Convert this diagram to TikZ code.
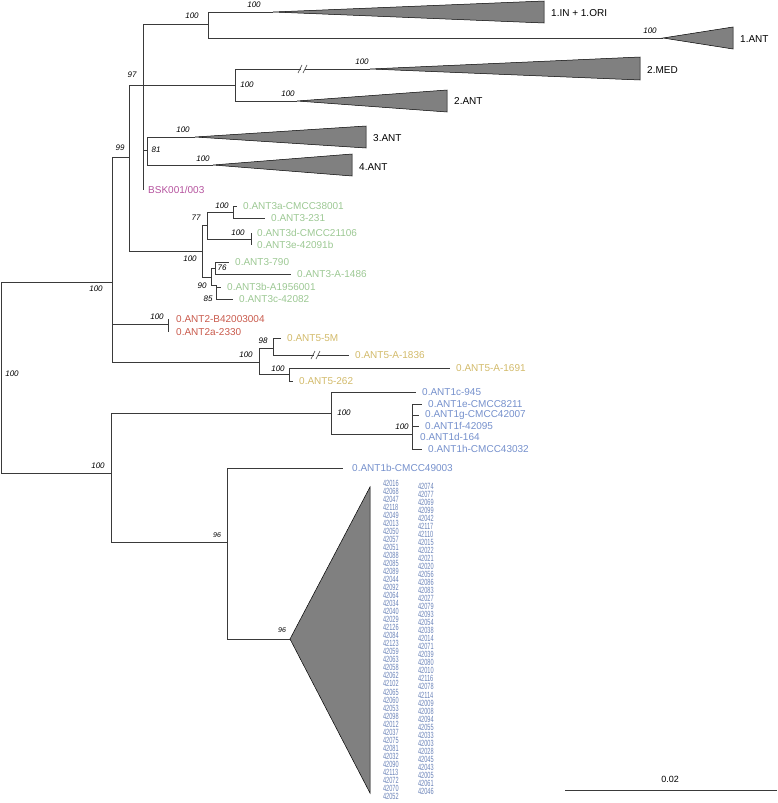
\documentclass[tikz,border=0pt]{standalone}
\usepackage{fontspec}
\setmainfont{Liberation Sans}
\usetikzlibrary{positioning}
\definecolor{branch}{HTML}{3A3A3A}
\definecolor{cladegray}{HTML}{808080}
\definecolor{antgreen}{HTML}{9CC893}
\definecolor{antred}{HTML}{C95A4C}
\definecolor{antyellow}{HTML}{D2BA6A}
\definecolor{antblue}{HTML}{7590CC}
\definecolor{bskpurple}{HTML}{B5539E}

\begin{document}
\begin{tikzpicture}[x=1pt,y=-1pt,
  br/.style={draw=branch,line width=0.7pt},
  clade/.style={draw=black,fill=cladegray,line width=0.5pt},
  leaf/.style={inner xsep=6pt,inner ysep=1pt,font=\fontsize{10}{12}\selectfont},
  cladelab/.style={inner xsep=7pt,font=\fontsize{10}{12}\selectfont},
  bs/.style={font=\itshape\fontsize{8}{9}\selectfont,inner sep=0pt},
  numcol/.style={font=\fontsize{9}{8.02}\selectfont,text=antblue!90!black,align=left,
    inner sep=0pt,xscale=0.62,anchor=north west}]
  \useasboundingbox (0,0) rectangle (778,803);

  % internal nodes
  \coordinate (root) at (1,378);
  \coordinate (nA) at (112,282);
  \coordinate (nB) at (111,473);
  \coordinate (n99) at (129,157);
  \coordinate (n97) at (143,85);
  \coordinate (n1) at (208,24);
  \coordinate (n2) at (235,85);
  \coordinate (n81) at (147,150);
  \coordinate (nant3) at (202,251);
  \coordinate (n77) at (207,225);
  \coordinate (n3ac) at (233,212);
  \coordinate (n3de) at (251,239);
  \coordinate (n90) at (211,277);
  \coordinate (n76) at (215,268);
  \coordinate (n85) at (216,285);
  \coordinate (nant2) at (168,324);
  \coordinate (nant5) at (259,362);
  \coordinate (n98) at (273,348);
  \coordinate (n5b) at (289,374);
  \coordinate (nant1) at (331,413);
  \coordinate (n1e) at (412,434);
  \coordinate (n96a) at (227,542);
  \coordinate (n96b) at (290,639);

  % collapsed clades (apex)
  \coordinate (c1in) at (273,12);
  \coordinate (c1ant) at (663,38);
  \coordinate (c2med) at (370,69);
  \coordinate (c2ant) at (297,101);
  \coordinate (c3ant) at (195,137);
  \coordinate (c4ant) at (213,165);

  % leaf tips
  \coordinate (tbsk) at (143,190);
  \coordinate (t3a) at (237,206);
  \coordinate (t3231) at (265,218);
  \coordinate (t3d) at (251,233);
  \coordinate (t3e) at (251,245);
  \coordinate (t3790) at (229,262);
  \coordinate (t31486) at (291,274);
  \coordinate (t3b) at (221,287);
  \coordinate (t3c) at (233,299);
  \coordinate (t2b) at (168,319);
  \coordinate (t2a) at (168,332);
  \coordinate (t55m) at (281,338);
  \coordinate (t51836) at (349,355);
  \coordinate (t51691) at (450,368);
  \coordinate (t5262) at (293,381);
  \coordinate (t1c) at (416,392);
  \coordinate (t1e) at (422,404);
  \coordinate (t1g) at (419,415);
  \coordinate (t1f) at (419,426);
  \coordinate (t1d) at (412,437);
  \coordinate (t1h) at (422,449);
  \coordinate (t1b) at (343,468);

  % branches
  \draw[br] (root) |- (nA) (root) |- (nB);
  \draw[br] (nA) |- (n99) (nA) |- (nant2) (nA) |- (nant5);
  \draw[br] (n99) |- (n97) (n99) |- (nant3);
  \draw[br] (n97) |- (n1) (n97) -- (n2) (n97) |- (n81) (n97) |- (tbsk);
  \draw[br] (n1) |- (c1in) (n1) |- (c1ant);
  \draw[br] (n2) |- (c2med) (n2) |- (c2ant);
  \draw[br] (n81) |- (c3ant) (n81) |- (c4ant);
  \draw[br] (nant3) |- (n77) (nant3) |- (n90);
  \draw[br] (n77) |- (n3ac) (n77) |- (n3de);
  \draw[br] (n3ac) |- (t3a) (n3ac) |- (t3231);
  \draw[br] (n3de) |- (t3d) (n3de) |- (t3e);
  \draw[br] (n90) |- (n76) (n90) |- (n85);
  \draw[br] (n76) |- (t3790) (n76) |- (t31486);
  \draw[br] (n85) |- (t3b) (n85) |- (t3c);
  \draw[br] (nant2) |- (t2b) (nant2) |- (t2a);
  \draw[br] (nant5) |- (n98) (nant5) |- (n5b);
  \draw[br] (n98) |- (t55m) (n98) |- (t51836);
  \draw[br] (n5b) |- (t51691) (n5b) |- (t5262);
  \draw[br] (nB) |- (nant1) (nB) |- (n96a);
  \draw[br] (nant1) |- (t1c) (nant1) |- (n1e);
  \draw[br] (n1e) |- (t1e) (n1e) |- (t1g) (n1e) |- (t1f) (n1e) |- (t1d) (n1e) |- (t1h);
  \draw[br] (n96a) |- (t1b) (n96a) |- (n96b);

  % broken branches
  \coordinate (brk1) at (303,69);
  \coordinate (brk2) at (316,355);
  \foreach \b in {brk1,brk2} {
    \fill[white,shift={(\b)}] (-2,-2) rectangle (1.5,2);
    \draw[br,line width=0.6pt,shift={(\b)}] (-5,4) -- (-1,-4) (0,4) -- (4,-4);
  }

  % collapsed clades
  \draw[clade] (c1in) -- (544,1) -- (544,23) -- cycle;
  \draw[clade] (c1ant) -- (733,27) -- (733,49) -- cycle;
  \draw[clade] (c2med) -- (640,57) -- (640,80) -- cycle;
  \draw[clade] (c2ant) -- (447,90) -- (447,112) -- cycle;
  \draw[clade] (c3ant) -- (366,126) -- (366,148) -- cycle;
  \draw[clade] (c4ant) -- (352,154) -- (352,176) -- cycle;
  \draw[clade] (n96b) -- (370,487) -- (370,793) -- cycle;

  \coordinate (e1in) at (544,13);
  \coordinate (e1ant) at (733,39);
  \coordinate (e2med) at (640,70);
  \coordinate (e2ant) at (447,101);
  \coordinate (e3ant) at (366,138);
  \coordinate (e4ant) at (352,167);
  \node[cladelab,right=0pt of e1in] (l1in) {1.IN + 1.ORI};
  \node[cladelab,right=0pt of e1ant] (l1ant) {1.ANT};
  \node[cladelab,right=0pt of e2med] (l2med) {2.MED};
  \node[cladelab,right=0pt of e2ant] (l2ant) {2.ANT};
  \node[cladelab,right=0pt of e3ant] (l3ant) {3.ANT};
  \node[cladelab,right=0pt of e4ant] (l4ant) {4.ANT};

  % leaf labels
  \node[leaf,text=bskpurple,right=-1pt of tbsk] (lbsk) {BSK001/003};
  \node[leaf,text=antgreen,right=0pt of t3a] (l3a) {0.ANT3a-CMCC38001};
  \node[leaf,text=antgreen,right=0pt of t3231] (l3231) {0.ANT3-231};
  \node[leaf,text=antgreen,right=0pt of t3d] (l3d) {0.ANT3d-CMCC21106};
  \node[leaf,text=antgreen,right=0pt of t3e] (l3e) {0.ANT3e-42091b};
  \node[leaf,text=antgreen,right=0pt of t3790] (l3790) {0.ANT3-790};
  \node[leaf,text=antgreen,right=0pt of t31486] (l31486) {0.ANT3-A-1486};
  \node[leaf,text=antgreen,right=0pt of t3b] (l3b) {0.ANT3b-A1956001};
  \node[leaf,text=antgreen,right=0pt of t3c] (l3c) {0.ANT3c-42082};
  \node[leaf,text=antred,right=2pt of t2b] (l2b) {0.ANT2-B42003004};
  \node[leaf,text=antred,right=2pt of t2a] (l2a) {0.ANT2a-2330};
  \node[leaf,text=antyellow,right=0pt of t55m] (l55m) {0.ANT5-5M};
  \node[leaf,text=antyellow,right=0pt of t51836] (l51836) {0.ANT5-A-1836};
  \node[leaf,text=antyellow,right=0pt of t51691] (l51691) {0.ANT5-A-1691};
  \node[leaf,text=antyellow,right=0pt of t5262] (l5262) {0.ANT5-262};
  \node[leaf,text=antblue,right=0pt of t1c] (l1c) {0.ANT1c-945};
  \node[leaf,text=antblue,right=0pt of t1e] (l1e) {0.ANT1e-CMCC8211};
  \node[leaf,text=antblue,right=0pt of t1g] (l1g) {0.ANT1g-CMCC42007};
  \node[leaf,text=antblue,right=0pt of t1f] (l1f) {0.ANT1f-42095};
  \node[leaf,text=antblue,right=2pt of t1d] (l1d) {0.ANT1d-164};
  \node[leaf,text=antblue,right=0pt of t1h] (l1h) {0.ANT1h-CMCC43032};
  \node[leaf,text=antblue,right=3pt of t1b] (l1b) {0.ANT1b-CMCC49003};

  % collapsed 0.ANT1 isolates
  \node[numcol] (ids1) at (383,480) {42016\\42068\\42047\\42118\\42049\\42013\\42050\\42057\\42051\\42088\\42085\\42089\\42044\\42092\\42064\\42034\\42040\\42029\\42126\\42084\\42123\\42059\\42063\\42058\\42062\\42102\\42065\\42060\\42053\\42098\\42012\\42037\\42075\\42081\\42032\\42090\\42113\\42072\\42070\\42052};
  \node[numcol] (ids2) at (418,483) {42074\\42077\\42069\\42099\\42042\\42117\\42110\\42015\\42022\\42021\\42020\\42056\\42086\\42083\\42027\\42079\\42093\\42054\\42038\\42014\\42071\\42039\\42080\\42010\\42116\\42078\\42114\\42009\\42008\\42094\\42055\\42033\\42003\\42028\\42045\\42043\\42005\\42061\\42046};

  % bootstrap support
  \node[bs] (b1) at (192,16) {100};
  \node[bs] (b1in) at (254,5) {100};
  \node[bs] (b1ant) at (650,31) {100};
  \node[bs] (b97) at (132,75) {97};
  \node[bs] (b2) at (247,85) {100};
  \node[bs] (b2med) at (362,62) {100};
  \node[bs] (b2ant) at (288,94) {100};
  \node[bs] (b99) at (120,148) {99};
  \node[bs] (b3ant) at (183,130) {100};
  \node[bs] (b81) at (156,150) {81};
  \node[bs] (b4ant) at (203,159) {100};
  \node[bs] (b3ac) at (222,206) {100};
  \node[bs] (b77) at (196,218) {77};
  \node[bs] (b3de) at (238,233) {100};
  \node[bs] (bant3) at (190,259) {100};
  \node[bs] (b76) at (222,268) {76};
  \node[bs] (b90) at (202,286) {90};
  \node[bs] (b85) at (208,299) {85};
  \node[bs] (bA) at (96,289) {100};
  \node[bs] (broot) at (12,374) {100};
  \node[bs] (bant2) at (157,317) {100};
  \node[bs] (b98) at (263,341) {98};
  \node[bs] (bant5) at (246,355) {100};
  \node[bs] (b5b) at (278,369) {100};
  \node[bs] (bant1) at (344,413) {100};
  \node[bs] (b1e) at (402,427) {100};
  \node[bs] (bB) at (98,466) {100};
  \node[bs,font=\itshape\fontsize{7}{8}\selectfont] (b96a) at (217,535) {96};
  \node[bs,font=\itshape\fontsize{7}{8}\selectfont] (b96b) at (282,630) {96};

  % scale bar
  \coordinate (sbl) at (565,790);
  \coordinate (sbr) at (777,790);
  \draw[br,line width=0.9pt] (sbl) -- (sbr);
  \node[font=\fontsize{9}{10}\selectfont] (sblab) at (670,779) {0.02};
\end{tikzpicture}
\end{document}
